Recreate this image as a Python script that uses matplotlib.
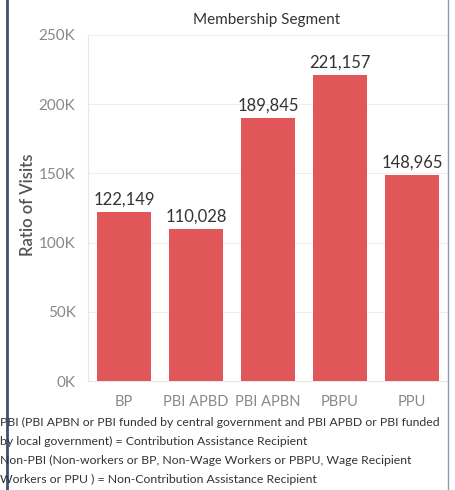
import matplotlib
matplotlib.use("Agg")
import matplotlib.pyplot as plt
from matplotlib.lines import Line2D

categories = ["BP", "PBI APBD", "PBI APBN", "PBPU", "PPU"]
values = [122149, 110028, 189845, 221157, 148965]
yticks = [0, 50000, 100000, 150000, 200000, 250000]
ytick_labels = ["0K", "50K", "100K", "150K", "200K", "250K"]
title = "Membership Segment"
ylabel = "Ratio of Visits"
notes = [
    "PBI (PBI APBN or PBI funded by central government and PBI APBD or PBI funded",
    "by local government) = Contribution Assistance Recipient",
    "Non-PBI (Non-workers or BP, Non-Wage Workers or PBPU, Wage Recipient",
    "Workers or PPU ) = Non-Contribution Assistance Recipient",
]

plt.rcParams['font.family'] = ['Lato', 'DejaVu Sans']
W, H = 455, 490
fig = plt.figure(figsize=(W/100, H/100), dpi=100)
fig.patch.set_facecolor("white")

left, right, top, bottom = 88, 448, 35, 381
ax = fig.add_axes([left/W, 1-bottom/H, (right-left)/W, (bottom-top)/H])
x = range(len(categories))
ax.bar(x, values, width=0.75, color="#E15759", zorder=2)
for xi, v in zip(x, values):
    ax.text(xi, v + 3000, f"{v:,}", ha="center", va="bottom", fontsize=12, color="#333333")
ax.set_xlim(-0.5, len(categories)-0.5)
ax.set_ylim(0, 250000)
ax.set_yticks(yticks)
ax.set_yticklabels(ytick_labels)
ax.set_xticks(list(x))
ax.set_xticklabels(categories)
ax.tick_params(axis="both", length=0, labelcolor="#888888")
ax.tick_params(axis="x", pad=10, labelsize=10.5)
ax.tick_params(axis="y", pad=9, labelsize=11)
ax.grid(axis="y", color="#eeeeee", linewidth=0.8, zorder=0)
for s in ["top", "right"]:
    ax.spines[s].set_visible(False)
ax.spines["left"].set_color("#e6e6e6")
ax.spines["bottom"].set_color("#e6e6e6")
ax.set_ylabel(ylabel, fontsize=12, color="#555555", fontweight="semibold")
ax.yaxis.set_label_coords((36-left)/(right-left), 0.51)
fig.text(267/W, 1-20/H, title, ha="center", va="center", fontsize=11, color="#333333")

for i, line in enumerate(notes):
    fig.text(0.0, 1-(422+19*i)/H, line, ha="left", va="center", fontsize=8.8, color="#333333")

# frame
fig.add_artist(Line2D([7/W, 7/W], [0, 1], transform=fig.transFigure, color="#3d5272", linewidth=2))
fig.add_artist(Line2D([448/W, 448/W], [0, 1], transform=fig.transFigure, color="#8a9bb3", linewidth=1))

fig.savefig("out.png", dpi=100, facecolor="white")
